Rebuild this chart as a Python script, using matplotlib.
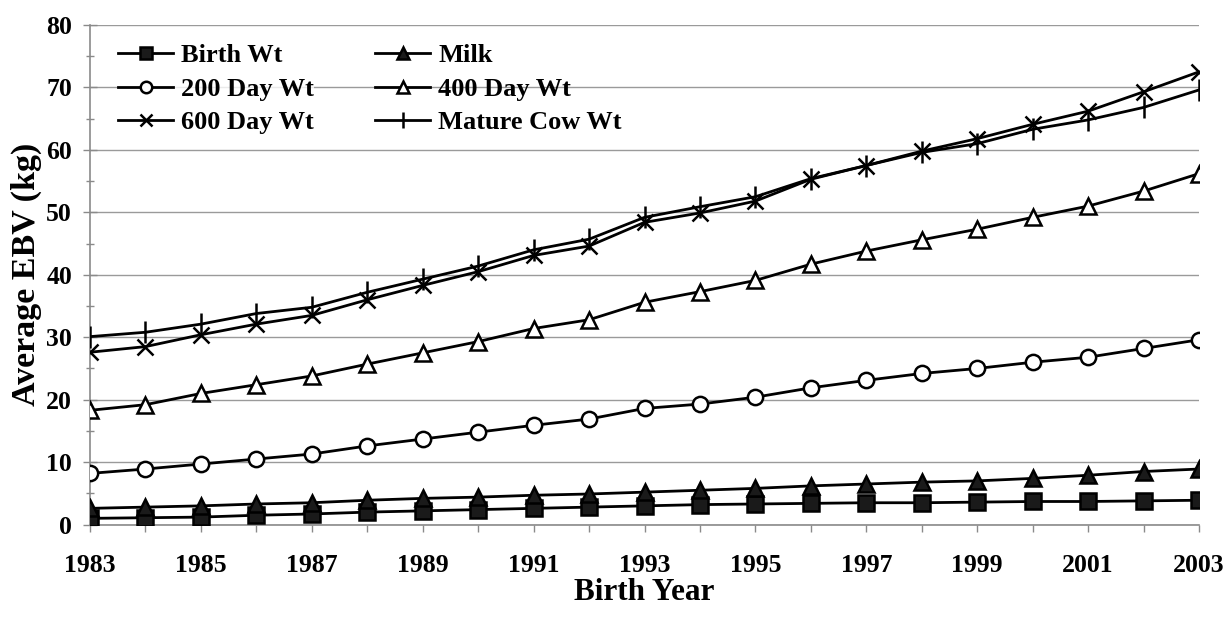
import matplotlib
matplotlib.use("Agg")
import matplotlib.pyplot as plt
from matplotlib.ticker import MultipleLocator

years = list(range(1983, 2004))
birth_wt = [1.0, 1.1, 1.2, 1.5, 1.7, 2.0, 2.2, 2.4, 2.6, 2.8, 3.0, 3.2, 3.3, 3.4, 3.5, 3.5, 3.6, 3.7, 3.7, 3.8, 3.9]
milk = [2.6, 2.8, 3.0, 3.3, 3.5, 3.9, 4.2, 4.4, 4.7, 4.9, 5.2, 5.5, 5.8, 6.2, 6.5, 6.8, 7.0, 7.4, 7.9, 8.5, 8.9]
day200 = [8.2, 8.9, 9.7, 10.5, 11.3, 12.6, 13.7, 14.8, 15.9, 16.9, 18.6, 19.3, 20.4, 21.9, 23.1, 24.2, 25.0, 26.0, 26.8, 28.2, 29.6]
day400 = [18.3, 19.2, 21.0, 22.4, 23.8, 25.7, 27.5, 29.3, 31.4, 32.8, 35.6, 37.3, 39.1, 41.7, 43.8, 45.6, 47.3, 49.2, 51.0, 53.4, 56.2]
day600 = [27.6, 28.5, 30.4, 32.1, 33.5, 36.0, 38.3, 40.5, 43.1, 44.6, 48.4, 49.9, 51.8, 55.3, 57.5, 59.8, 61.8, 64.1, 66.2, 69.3, 72.5]
mature_cow = [30.1, 30.8, 32.1, 33.8, 34.8, 37.2, 39.3, 41.4, 44.0, 45.7, 49.2, 50.9, 52.5, 55.4, 57.5, 59.6, 61.0, 63.3, 64.8, 66.8, 69.6]

labels = ["Birth Wt", "Milk", "200 Day Wt", "400 Day Wt", "600 Day Wt", "Mature Cow Wt"]
x_tick_labels = [str(y) for y in range(1983, 2004, 2)]

plt.rcParams['font.family'] = ['Liberation Serif', 'DejaVu Serif']
plt.rcParams['font.weight'] = 'bold'

fig = plt.figure(figsize=(12.32, 6.17), dpi=100)
W, H = 1232, 617
ax = fig.add_axes([90 / W, 1 - 524.6 / H, (1199 - 90) / W, (524.6 - 25) / H])

lw = 2.0
common = dict(color='black', lw=lw, markeredgecolor='black', markeredgewidth=1.8, zorder=3)
lines = {}
lines["Birth Wt"] = ax.plot(years, birth_wt, marker='s', ms=11, markerfacecolor='#1a1a1a', **common)[0]
lines["Milk"] = ax.plot(years, milk, marker='^', ms=11, markerfacecolor='#1a1a1a', **common)[0]
lines["200 Day Wt"] = ax.plot(years, day200, marker='o', ms=11, markerfacecolor='white', **common)[0]
lines["400 Day Wt"] = ax.plot(years, day400, marker='^', ms=11, markerfacecolor='white', **common)[0]
lines["600 Day Wt"] = ax.plot(years, day600, marker='x', ms=12, markerfacecolor='none', **common)[0]
lines["Mature Cow Wt"] = ax.plot(years, mature_cow, marker='|', ms=16, markerfacecolor='none', **common)[0]

ax.set_xlim(1983, 2003)
ax.set_ylim(0, 80)
ax.xaxis.set_minor_locator(MultipleLocator(1))
ax.set_xticks(range(1983, 2004, 2))
ax.set_xticklabels(x_tick_labels)
ax.yaxis.set_major_locator(MultipleLocator(10))
ax.yaxis.set_minor_locator(MultipleLocator(5))

ax.grid(axis='y', which='major', color='#9a9a9a', lw=1.0, zorder=0)
ax.set_axisbelow(True)
for s in ['top', 'right']:
    ax.spines[s].set_visible(False)
for s in ['left', 'bottom']:
    ax.spines[s].set_color('#8a8a8a')
    ax.spines[s].set_linewidth(1.2)

ax.tick_params(axis='y', which='major', direction='inout', length=10, width=1, color='#8a8a8a', labelsize=18.5, pad=8)
ax.tick_params(axis='y', which='minor', direction='inout', length=6, width=1, color='#8a8a8a')
ax.tick_params(axis='x', which='both', direction='out', length=5, width=1, color='#8a8a8a', labelsize=18.5, pad=16)
for t in ax.get_xticklabels() + ax.get_yticklabels():
    t.set_fontweight('bold')

ax.set_xlabel("Birth Year", fontsize=22.5, fontweight='bold', labelpad=1)
ax.set_ylabel("Average EBV (kg)", fontsize=24.5, fontweight='bold', labelpad=3)

leg_kw = dict(frameon=True, handlelength=2.1, handletextpad=0.3,
              labelspacing=0.38, borderpad=0.0, borderaxespad=0.0, markerscale=0.75,
              loc='upper left', bbox_transform=fig.transFigure, prop={'weight': 'bold', 'size': 19})
col1 = ["Birth Wt", "200 Day Wt", "600 Day Wt"]
col2 = ["Milk", "400 Day Wt", "Mature Cow Wt"]
leg1 = ax.legend([lines[k] for k in col1], col1, bbox_to_anchor=(118 / W, 1 - 44 / H), **leg_kw)
leg1.get_frame().set_facecolor('white')
leg1.get_frame().set_edgecolor('none')
ax.add_artist(leg1)
leg2 = ax.legend([lines[k] for k in col2], col2, bbox_to_anchor=(375 / W, 1 - 44 / H), **leg_kw)
leg2.get_frame().set_visible(False)

fig.savefig("out.png", dpi=100, facecolor='white')
